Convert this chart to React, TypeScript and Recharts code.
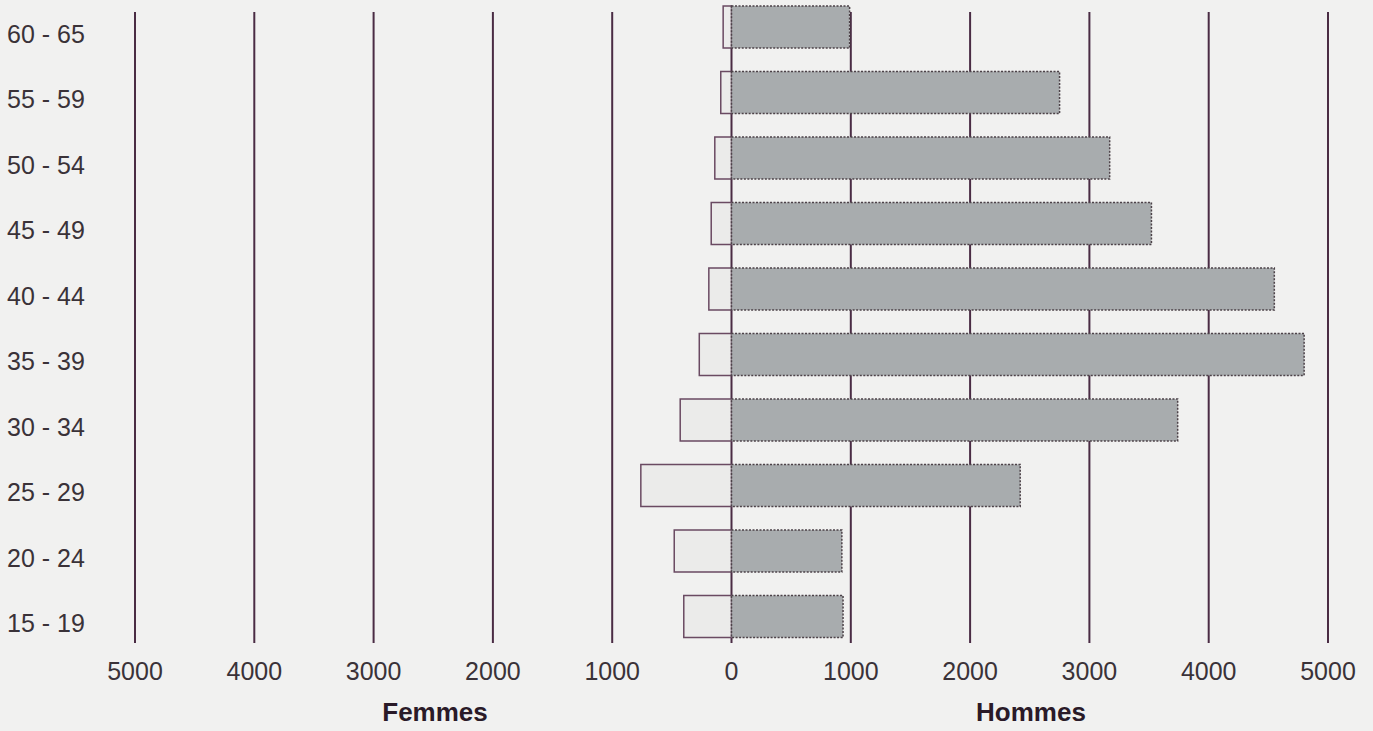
import { BarChart, Bar, XAxis, YAxis, CartesianGrid } from 'recharts';

const ageGroups = ['60 - 65', '55 - 59', '50 - 54', '45 - 49', '40 - 44', '35 - 39', '30 - 34', '25 - 29', '20 - 24', '15 - 19'];
const femmes = [70, 90, 140, 170, 190, 270, 430, 760, 480, 400];
const hommes = [990, 2750, 3170, 3520, 4550, 4800, 3740, 2420, 925, 935];
const xTicks = [-5000, -4000, -3000, -2000, -1000, 0, 1000, 2000, 3000, 4000, 5000];

const data = ageGroups.map((age, i) => ({
  age,
  femmes: -femmes[i],
  hommes: hommes[i],
}));

const FONT = '"Liberation Sans", Arial, sans-serif';
const INK = '#4a2c44';

const AgeTick = ({ y, payload }: { y?: number; payload?: { value: string } }) => (
  <text x={7} y={y} dy={16} fontSize={25} fontFamily={FONT} fill="#3a3238" textAnchor="start">
    {payload?.value}
  </text>
);

const ValueTick = ({ x, y, payload }: { x?: number; y?: number; payload?: { value: number } }) => (
  <text x={x} y={y} dy={31} fontSize={25} fontFamily={FONT} fill="#3a3238" textAnchor="middle">
    {Math.abs(payload?.value ?? 0)}
  </text>
);

// grid lines stop a bit short of the plot edges, like in the print
const GridLine = (props: any) => (
  <line
    key={props.key ?? props.x1}
    x1={props.x1}
    x2={props.x2}
    y1={props.y1 + 18}
    y2={props.y2 - 6}
    stroke={INK}
    strokeWidth={2}
  />
);

const titleStyle: React.CSSProperties = {
  position: 'absolute',
  top: 697,
  width: 200,
  textAlign: 'center',
  fontFamily: FONT,
  fontWeight: 700,
  fontSize: 26,
  color: '#2a1a28',
  lineHeight: '30px',
};

export default function App() {
  return (
    <div style={{ position: 'absolute', left: 0, top: 0, width: 1373, height: 731, background: '#f1f1f0', overflow: 'hidden' }}>
      <div style={{ position: 'absolute', left: 0, top: -6 }}>
        <BarChart
          width={1373}
          height={737}
          data={data}
          layout="vertical"
          stackOffset="sign"
          margin={{ top: 0, right: 45, bottom: 52, left: 0 }}
        >
          <CartesianGrid horizontal={false} vertical={GridLine} />
          <XAxis
            type="number"
            domain={[-5000, 5000]}
            ticks={xTicks}
            axisLine={false}
            tickLine={false}
            tickSize={0}
            tickMargin={0}
            tick={<ValueTick />}
            interval={0}
            height={30}
          />
          <YAxis
            type="category"
            dataKey="age"
            width={135}
            axisLine={false}
            tickLine={false}
            tick={<AgeTick />}
            interval={0}
          />
          <Bar
            dataKey="femmes"
            stackId="pop"
            barSize={42}
            fill="#ebebea"
            stroke="#6a4a62"
            strokeWidth={1.5}
            isAnimationActive={false}
          />
          <Bar
            dataKey="hommes"
            stackId="pop"
            barSize={42}
            fill="#a8acae"
            stroke="#4c4248"
            strokeWidth={1.5}
            strokeDasharray="2 1.5"
            isAnimationActive={false}
          />
        </BarChart>
      </div>
      <div style={{ ...titleStyle, left: 335 }}>Femmes</div>
      <div style={{ ...titleStyle, left: 931 }}>Hommes</div>
    </div>
  );
}
